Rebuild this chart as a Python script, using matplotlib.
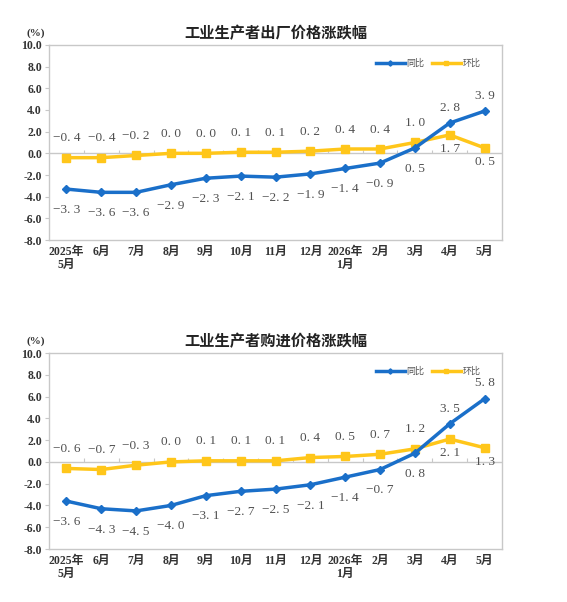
import matplotlib.pyplot as plt
import numpy as np

plt.rcParams['font.family'] = ['Liberation Serif', 'Noto Sans CJK SC']

months = ['2025年\n5月', '6月', '7月', '8月', '9月', '10月', '11月', '12月',
          '2026年\n1月', '2月', '3月', '4月', '5月']

ppi_yoy = [-3.3, -3.6, -3.6, -2.9, -2.3, -2.1, -2.2, -1.9, -1.4, -0.9, 0.5, 2.8, 3.9]
ppi_mom = [-0.4, -0.4, -0.2, 0.0, 0.0, 0.1, 0.1, 0.2, 0.4, 0.4, 1.0, 1.7, 0.5]

pp_yoy = [-3.6, -4.3, -4.5, -4.0, -3.1, -2.7, -2.5, -2.1, -1.4, -0.7, 0.8, 3.5, 5.8]
pp_mom = [-0.6, -0.7, -0.3, 0.0, 0.1, 0.1, 0.1, 0.4, 0.5, 0.7, 1.2, 2.1, 1.3]

titles = ['工业生产者出厂价格涨跌幅', '工业生产者购进价格涨跌幅']

blue = '#1a6fc9'
yellow = '#ffc61a'
label_color = '#505050'


def fmt(v):
    s = '%.1f' % v
    return s.replace('-', '−').replace('.', '. ')


def draw(ax, title, yoy, mom, yoy_up, mom_down):
    x = np.arange(len(months))
    ax.axhline(0, color='#c8c8c8', lw=1, zorder=1)
    ax.vlines(x[:-1] + 0.5, 0, 0.35, color='#c8c8c8', lw=0.8, zorder=1)
    ax.plot(x, yoy, color=blue, lw=2.5, marker='D', ms=4.5, label='同比', zorder=3)
    ax.plot(x, mom, color=yellow, lw=2.5, marker='s', ms=5.5, label='环比', zorder=2)

    for i, v in enumerate(yoy):
        off = 11 if i in yoy_up else -15
        ax.annotate(fmt(v), (x[i], v), xytext=(0, off), textcoords='offset points',
                    ha='center', va='center', fontsize=9.5, color=label_color,
                    family='Liberation Serif')
    for i, v in enumerate(mom):
        off = -10 if i in mom_down else 14
        ax.annotate(fmt(v), (x[i], v), xytext=(0, off), textcoords='offset points',
                    ha='center', va='center', fontsize=9.5, color=label_color,
                    family='Liberation Serif')

    ax.set_xlim(-0.5, len(months) - 0.5)
    ax.set_ylim(-8, 10)
    ax.set_yticks(np.arange(-8, 10.1, 2))
    ax.set_yticklabels(['%.1f' % t for t in np.arange(-8, 10.1, 2)],
                       fontsize=8.5, fontweight='bold', color='#333333')
    ax.set_xticks(x)
    ax.set_xticklabels(months, fontsize=8.5, fontweight='bold', color='#333333',
                       linespacing=1.1)
    ax.tick_params(axis='x', length=0, pad=4)
    ax.tick_params(axis='y', length=3, color='#c8c8c8', pad=2)
    for s in ax.spines.values():
        s.set_color('#c8c8c8')
        s.set_linewidth(1)

    ax.set_title(title, family='Noto Sans CJK SC', fontsize=11, fontweight='bold',
                 color='#222222', pad=5)
    ax.text(-0.03, 1.06, '(%)', transform=ax.transAxes, ha='center', va='center',
            fontsize=8, fontweight='bold', color='#333333')
    ax.legend(loc='upper right', bbox_to_anchor=(0.97, 0.97), frameon=False,
              ncol=2, handlelength=3.2, handletextpad=0.2,
              columnspacing=0.8, markerscale=0.6, labelcolor='#555555',
              prop={'family': 'Noto Sans CJK SC', 'size': 6.5})


fig = plt.figure(figsize=(5.67, 6.02), dpi=100)
ax1 = fig.add_axes([0.0864, 0.6013, 0.799, 0.324])
ax2 = fig.add_axes([0.0864, 0.088, 0.799, 0.3256])

draw(ax1, titles[0], ppi_yoy, ppi_mom, yoy_up=[11, 12], mom_down=[11, 12])
draw(ax2, titles[1], pp_yoy, pp_mom, yoy_up=[11, 12], mom_down=[11, 12])

fig.savefig('out.png', dpi=100)
